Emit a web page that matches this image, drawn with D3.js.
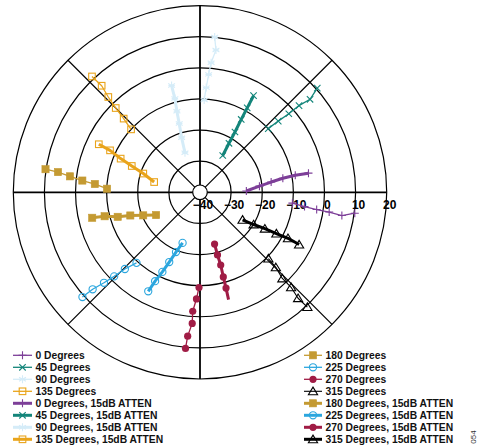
<!DOCTYPE html>
<html><head><meta charset="utf-8">
<script src="https://cdn.jsdelivr.net/npm/d3@7"></script>
<style>
html,body{margin:0;padding:0;background:#fff;}
svg{display:block;font-family:"Liberation Sans",Arial,sans-serif;}
</style></head>
<body><svg id="c" width="486" height="448"></svg>
<script>
// ---- data: [angle in degrees, magnitude in dB] ----
const radialTicks = [-40, -30, -20, -10, 0, 10, 20];
const spokeAngles = [0, 45, 90, 135, 180, 225, 270, 315];

const deg0      = [[353.3,-10.1],[352.2,-6.1],[351.6,-2.1],[351.3,2.0],[350.7,6.2],[352.3,10.2]];
const deg45     = [[43.0,-10.0],[42.3,-6.0],[41.5,-1.9],[41.2,2.3],[40.2,6.3],[41.6,10.4]];
const deg90     = [[87.4,-10.3],[86.6,-6.3],[85.8,-2.0],[85.1,1.8],[83.6,6.0],[84.6,10.1]];
const deg135    = [[137.6,-10.0],[136.0,-5.9],[135.0,-1.7],[133.9,2.5],[132.7,6.6],[133.0,10.9]];
const deg180    = [[177.8,-10.1],[175.5,-6.1],[174.3,-2.0],[173.0,2.1],[171.9,6.1],[171.5,10.2]];
const deg225    = [[228.0,-9.5],[225.6,-5.5],[224.4,-1.4],[223.3,2.4],[222.1,6.5],[221.7,10.6]];
const deg270    = [[269.4,-9.4],[268.1,-5.7],[266.5,-1.7],[266.6,2.2],[265.1,6.4],[264.7,10.4]];
const deg315    = [[315.9,-9.4],[315.3,-5.7],[313.7,-1.7],[313.8,2.3],[312.8,6.4],[313.1,10.5]];
const deg0Att   = [[1.6,-25.1],[5.9,-20.8],[8.2,-16.9],[9.6,-13.0],[10.1,-8.9],[10.0,-4.6]];
const deg45Att  = [[58.3,-26.1],[59.4,-21.7],[59.9,-17.6],[60.5,-13.1],[60.8,-8.9],[61.0,-4.5]];
const deg90Att  = [[110.8,-26.4],[108.6,-21.5],[106.8,-16.9],[105.9,-12.9],[105.0,-8.8],[104.9,-4.5]];
const deg135Att = [[167.4,-24.9],[161.7,-20.8],[158.9,-16.5],[157.0,-12.3],[155.0,-8.1],[154.6,-4.0]];
const deg180Att = [[207.4,-24.1],[202.1,-20.3],[198.4,-16.4],[196.6,-12.4],[194.1,-8.4],[193.3,-4.4]];
const deg225Att = [[251.0,-22.8],[248.1,-19.3],[246.2,-15.5],[244.7,-11.7],[243.2,-8.0],[242.4,-4.1]];
const deg270Att = [[285.7,-22.7],[285.6,-19.1],[285.9,-15.7],[285.4,-11.8],[285.2,-8.1],[284.9,-4.3]];
const deg315Att = [[327.1,-23.7],[329.0,-19.9],[330.7,-16.1],[331.6,-12.1],[332.4,-8.1],[332.2,-4.0]];

const seriesNames = ["0 Degrees","45 Degrees","90 Degrees","135 Degrees",
  "0 Degrees, 15dB ATTEN","45 Degrees, 15dB ATTEN","90 Degrees, 15dB ATTEN","135 Degrees, 15dB ATTEN",
  "180 Degrees","225 Degrees","270 Degrees","315 Degrees",
  "180 Degrees, 15dB ATTEN","225 Degrees, 15dB ATTEN","270 Degrees, 15dB ATTEN","315 Degrees, 15dB ATTEN"];
const seriesData = [deg0,deg45,deg90,deg135,deg0Att,deg45Att,deg90Att,deg135Att,
  deg180,deg225,deg270,deg315,deg180Att,deg225Att,deg270Att,deg315Att];

// ---- styles ----
const colors = {p:"#7D3F98", t:"#13857A", l:"#D5ECF8", o:"#E9A41B", g:"#C49A32", b:"#2BA6DE", r:"#A01C45", k:"#000"};
const styleOf = [
  {c:colors.p,m:"plus",w:1.3},{c:colors.t,m:"x",w:1.3},{c:colors.l,m:"ast",w:1.3},{c:colors.o,m:"sq",w:1.3},
  {c:colors.p,m:"plus",w:3},{c:colors.t,m:"x",w:3},{c:colors.l,m:"ast",w:3},{c:colors.o,m:"sq",w:3},
  {c:colors.g,m:"fsq",w:1.3},{c:colors.b,m:"circ",w:1.3},{c:colors.r,m:"fcirc",w:1.3},{c:colors.k,m:"tri",w:1.1},
  {c:colors.g,m:"fsq",w:3},{c:colors.b,m:"circ",w:3},{c:colors.r,m:"fcirc",w:3,skipLast:true},{c:colors.k,m:"tri",w:3}
];

const svg = d3.select("#c");
const cx = 200, cy = 192.3, R = 186.7;
const r = d3.scaleLinear().domain([-40, 20]).range([0, R]);
const px = (a, v) => cx + r(v) * Math.cos(a * Math.PI / 180);
const py = (a, v) => cy - r(v) * Math.sin(a * Math.PI / 180);

const g = svg.append("g");
// rings
g.selectAll("circle.ring").data(radialTicks.slice(1)).join("circle")
  .attr("cx", cx).attr("cy", cy).attr("r", d => r(d))
  .attr("fill", "none").attr("stroke", "#000").attr("stroke-width", 1.2);
// spokes
g.selectAll("line.spoke").data(spokeAngles).join("line")
  .attr("x1", cx).attr("y1", cy)
  .attr("x2", d => px(d, 20)).attr("y2", d => py(d, 20))
  .attr("stroke", "#000").attr("stroke-width", d => d % 90 === 0 ? 1.8 : 1.2);
// center hole
g.append("circle").attr("cx", cx).attr("cy", cy).attr("r", 7.3)
  .attr("fill", "#fff").attr("stroke", "#000").attr("stroke-width", 1.2);
// tick labels
g.selectAll("text.tick").data(radialTicks).join("text")
  .attr("x", d => cx + r(d) + 3).attr("y", 209)
  .attr("text-anchor", "middle").attr("font-weight", "bold").attr("font-size", 12)
  .text(d => d < 0 ? "\u2212" + Math.abs(d) : String(d));

function marker(sel, type, color, x, y, s) {
  const h = s / 2;
  if (type === "plus") {
    sel.append("path").attr("d", `M${x-h},${y}H${x+h}M${x},${y-h}V${y+h}`).attr("stroke", color).attr("stroke-width", 1.1).attr("fill","none");
  } else if (type === "x") {
    const k = h * 0.8;
    sel.append("path").attr("d", `M${x-k},${y-k}L${x+k},${y+k}M${x-k},${y+k}L${x+k},${y-k}`).attr("stroke", color).attr("stroke-width", 1.1).attr("fill","none");
  } else if (type === "ast") {
    let d = "";
    for (let i = 0; i < 3; i++) { const a = Math.PI/2 + i*Math.PI/3; d += `M${x-h*Math.cos(a)},${y-h*Math.sin(a)}L${x+h*Math.cos(a)},${y+h*Math.sin(a)}`; }
    d += `M${x-h*0.8},${y}L${x+h*0.8},${y}`;
    sel.append("path").attr("d", d).attr("stroke", color).attr("stroke-width", 1.1).attr("fill","none");
  } else if (type === "sq") {
    sel.append("rect").attr("x", x-3.3).attr("y", y-3.3).attr("width", 6.6).attr("height", 6.6).attr("fill","none").attr("stroke", color).attr("stroke-width", 1.1);
  } else if (type === "fsq") {
    sel.append("rect").attr("x", x-3.6).attr("y", y-3.6).attr("width", 7.2).attr("height", 7.2).attr("fill", color).attr("stroke", color).attr("stroke-width", 0.6);
  } else if (type === "circ") {
    sel.append("circle").attr("cx", x).attr("cy", y).attr("r", 3.6).attr("fill","none").attr("stroke", color).attr("stroke-width", 1.1);
  } else if (type === "fcirc") {
    sel.append("circle").attr("cx", x).attr("cy", y).attr("r", 3.6).attr("fill", color);
  } else if (type === "tri") {
    sel.append("path").attr("d", `M${x},${y-4.2}L${x+4.6},${y+3.4}L${x-4.6},${y+3.4}Z`).attr("fill","none").attr("stroke", color).attr("stroke-width", 1.1);
  }
}

const line = d3.line().x(d => px(d[0], d[1])).y(d => py(d[0], d[1]));
const sg = svg.append("g");
seriesData.forEach((data, i) => {
  const st = styleOf[i];
  const gg = sg.append("g");
  gg.append("path").attr("d", line(data)).attr("fill", "none")
    .attr("stroke", st.c).attr("stroke-width", st.w).attr("stroke-linejoin","round");
  const pts = st.skipLast ? data.slice(0, -1) : data;
  pts.forEach(d => marker(gg, st.m, st.c, px(d[0], d[1]), py(d[0], d[1]), 8));
});

// legend
const lg = svg.append("g");
seriesNames.forEach((name, i) => {
  const col = Math.floor(i / 8), row = i % 8;
  const x0 = col === 0 ? 13 : 304, x1 = col === 0 ? 32 : 322;
  const y = 355.3 + row * 12;
  const st = styleOf[i];
  lg.append("line").attr("x1", x0).attr("x2", x1).attr("y1", y).attr("y2", y)
    .attr("stroke", st.c).attr("stroke-width", st.w);
  marker(lg, st.m, st.c, (x0 + x1) / 2, y, 8);
  lg.append("text").attr("x", x1 + 3.5).attr("y", y + 3.7)
    .attr("font-size", 10.3).attr("font-weight", "bold").attr("fill", "#111").text(name);
});

svg.append("text").attr("transform", "translate(476,437) rotate(-90)")
  .attr("text-anchor", "middle").attr("font-size", 8).attr("fill", "#333").text("054");
</script>
</body></html>
